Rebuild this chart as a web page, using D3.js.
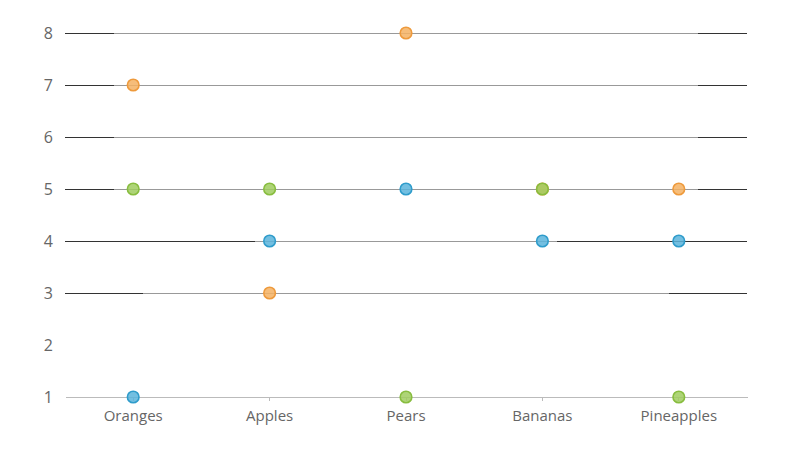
<!DOCTYPE html>
<html>
<head>
<meta charset="utf-8">
<script src="https://cdn.jsdelivr.net/npm/d3@7"></script>
<style>
  body { margin: 0; background: #fff; }
  text { font-family: "Segoe UI", "Open Sans", sans-serif; }
</style>
</head>
<body>
<div id="chart"></div>
<script>
// Data
// ==============================================================================
var categories = ["Oranges", "Apples", "Pears", "Bananas", "Pineapples"];
var yTicks = [1, 2, 3, 4, 5, 6, 7, 8];
var blueValues = [1, 4, 5, 4, 4];
var orangeValues = [7, 3, 8, 5, 5];
var greenValues = [5, 5, 1, 5, 1];

var series = [
  { name: "blue", values: blueValues, fill: "#5ab4dc", stroke: "#2f9ccb" },
  { name: "orange", values: orangeValues, fill: "#f4b163", stroke: "#ee9a3c" },
  { name: "green", values: greenValues, fill: "#a0cd5f", stroke: "#88bd3f" }
];

// Canvas
// ==============================================================================
var svgWidth = 800;
var svgHeight = 450;
var margin = { top: 33, right: 53, bottom: 53, left: 65 };
var width = svgWidth - margin.left - margin.right;
var height = svgHeight - margin.top - margin.bottom;

var svg = d3.select("#chart")
  .append("svg")
  .attr("width", svgWidth)
  .attr("height", svgHeight);

var chartGroup = svg.append("g")
  .attr("transform", `translate(${margin.left}, ${margin.top})`);

// Scales
// ==============================================================================
var xBand = d3.scaleBand().domain(categories).range([0, width]);
var xCenter = d => xBand(d) + xBand.bandwidth() / 2;
var yScale = d3.scaleLinear().domain([1, 8]).range([height, 0]);

// Gridlines (gray, with darker stretches near the ends)
// ==============================================================================
var darkEnds = { 8: [0.072, 0.072], 7: [0.072, 0.072], 6: [0.072, 0.072],
                 5: [0.072, 0.072], 4: [0.279, 0.279], 3: [0.114, 0.114] };

Object.keys(darkEnds).forEach(function(v) {
  var y = yScale(+v);
  chartGroup.append("line")
    .attr("x1", 0).attr("x2", width)
    .attr("y1", y).attr("y2", y)
    .attr("stroke", "#999").attr("stroke-width", 1)
    .attr("shape-rendering", "crispEdges");
  chartGroup.append("line")
    .attr("x1", 0).attr("x2", width * darkEnds[v][0])
    .attr("y1", y).attr("y2", y)
    .attr("stroke", "#333").attr("stroke-width", 1)
    .attr("shape-rendering", "crispEdges");
  chartGroup.append("line")
    .attr("x1", width * (1 - darkEnds[v][1])).attr("x2", width)
    .attr("y1", y).attr("y2", y)
    .attr("stroke", "#333").attr("stroke-width", 1)
    .attr("shape-rendering", "crispEdges");
});

// Axes
// ==============================================================================
var leftAxis = d3.axisLeft(yScale).tickValues(yTicks).tickFormat(d3.format("d"))
  .tickSize(0).tickPadding(12);
var yAxisG = chartGroup.append("g").call(leftAxis);
yAxisG.select(".domain").remove();
yAxisG.selectAll("text")
  .attr("fill", "#666")
  .style("font-size", "16px");

var bottomAxis = d3.axisBottom(xBand).tickSize(4).tickSizeOuter(0).tickPadding(9);
var xAxisG = chartGroup.append("g")
  .attr("transform", `translate(0, ${height})`)
  .call(bottomAxis);
xAxisG.select(".domain")
  .attr("stroke", "#bbb")
  .attr("shape-rendering", "crispEdges");
xAxisG.selectAll(".tick line")
  .attr("stroke", "#bbb")
  .attr("shape-rendering", "crispEdges");
xAxisG.selectAll("text")
  .attr("fill", "#666")
  .style("font-size", "15px");

// Markers
// ==============================================================================
series.forEach(function(s) {
  chartGroup.append("g")
    .selectAll("circle")
    .data(s.values)
    .enter()
    .append("circle")
    .attr("cx", (d, i) => xCenter(categories[i]))
    .attr("cy", d => yScale(d))
    .attr("r", 5.8)
    .attr("fill", s.fill)
    .attr("fill-opacity", 0.85)
    .attr("stroke", s.stroke)
    .attr("stroke-width", 1.6);
});
</script>
</body>
</html>
